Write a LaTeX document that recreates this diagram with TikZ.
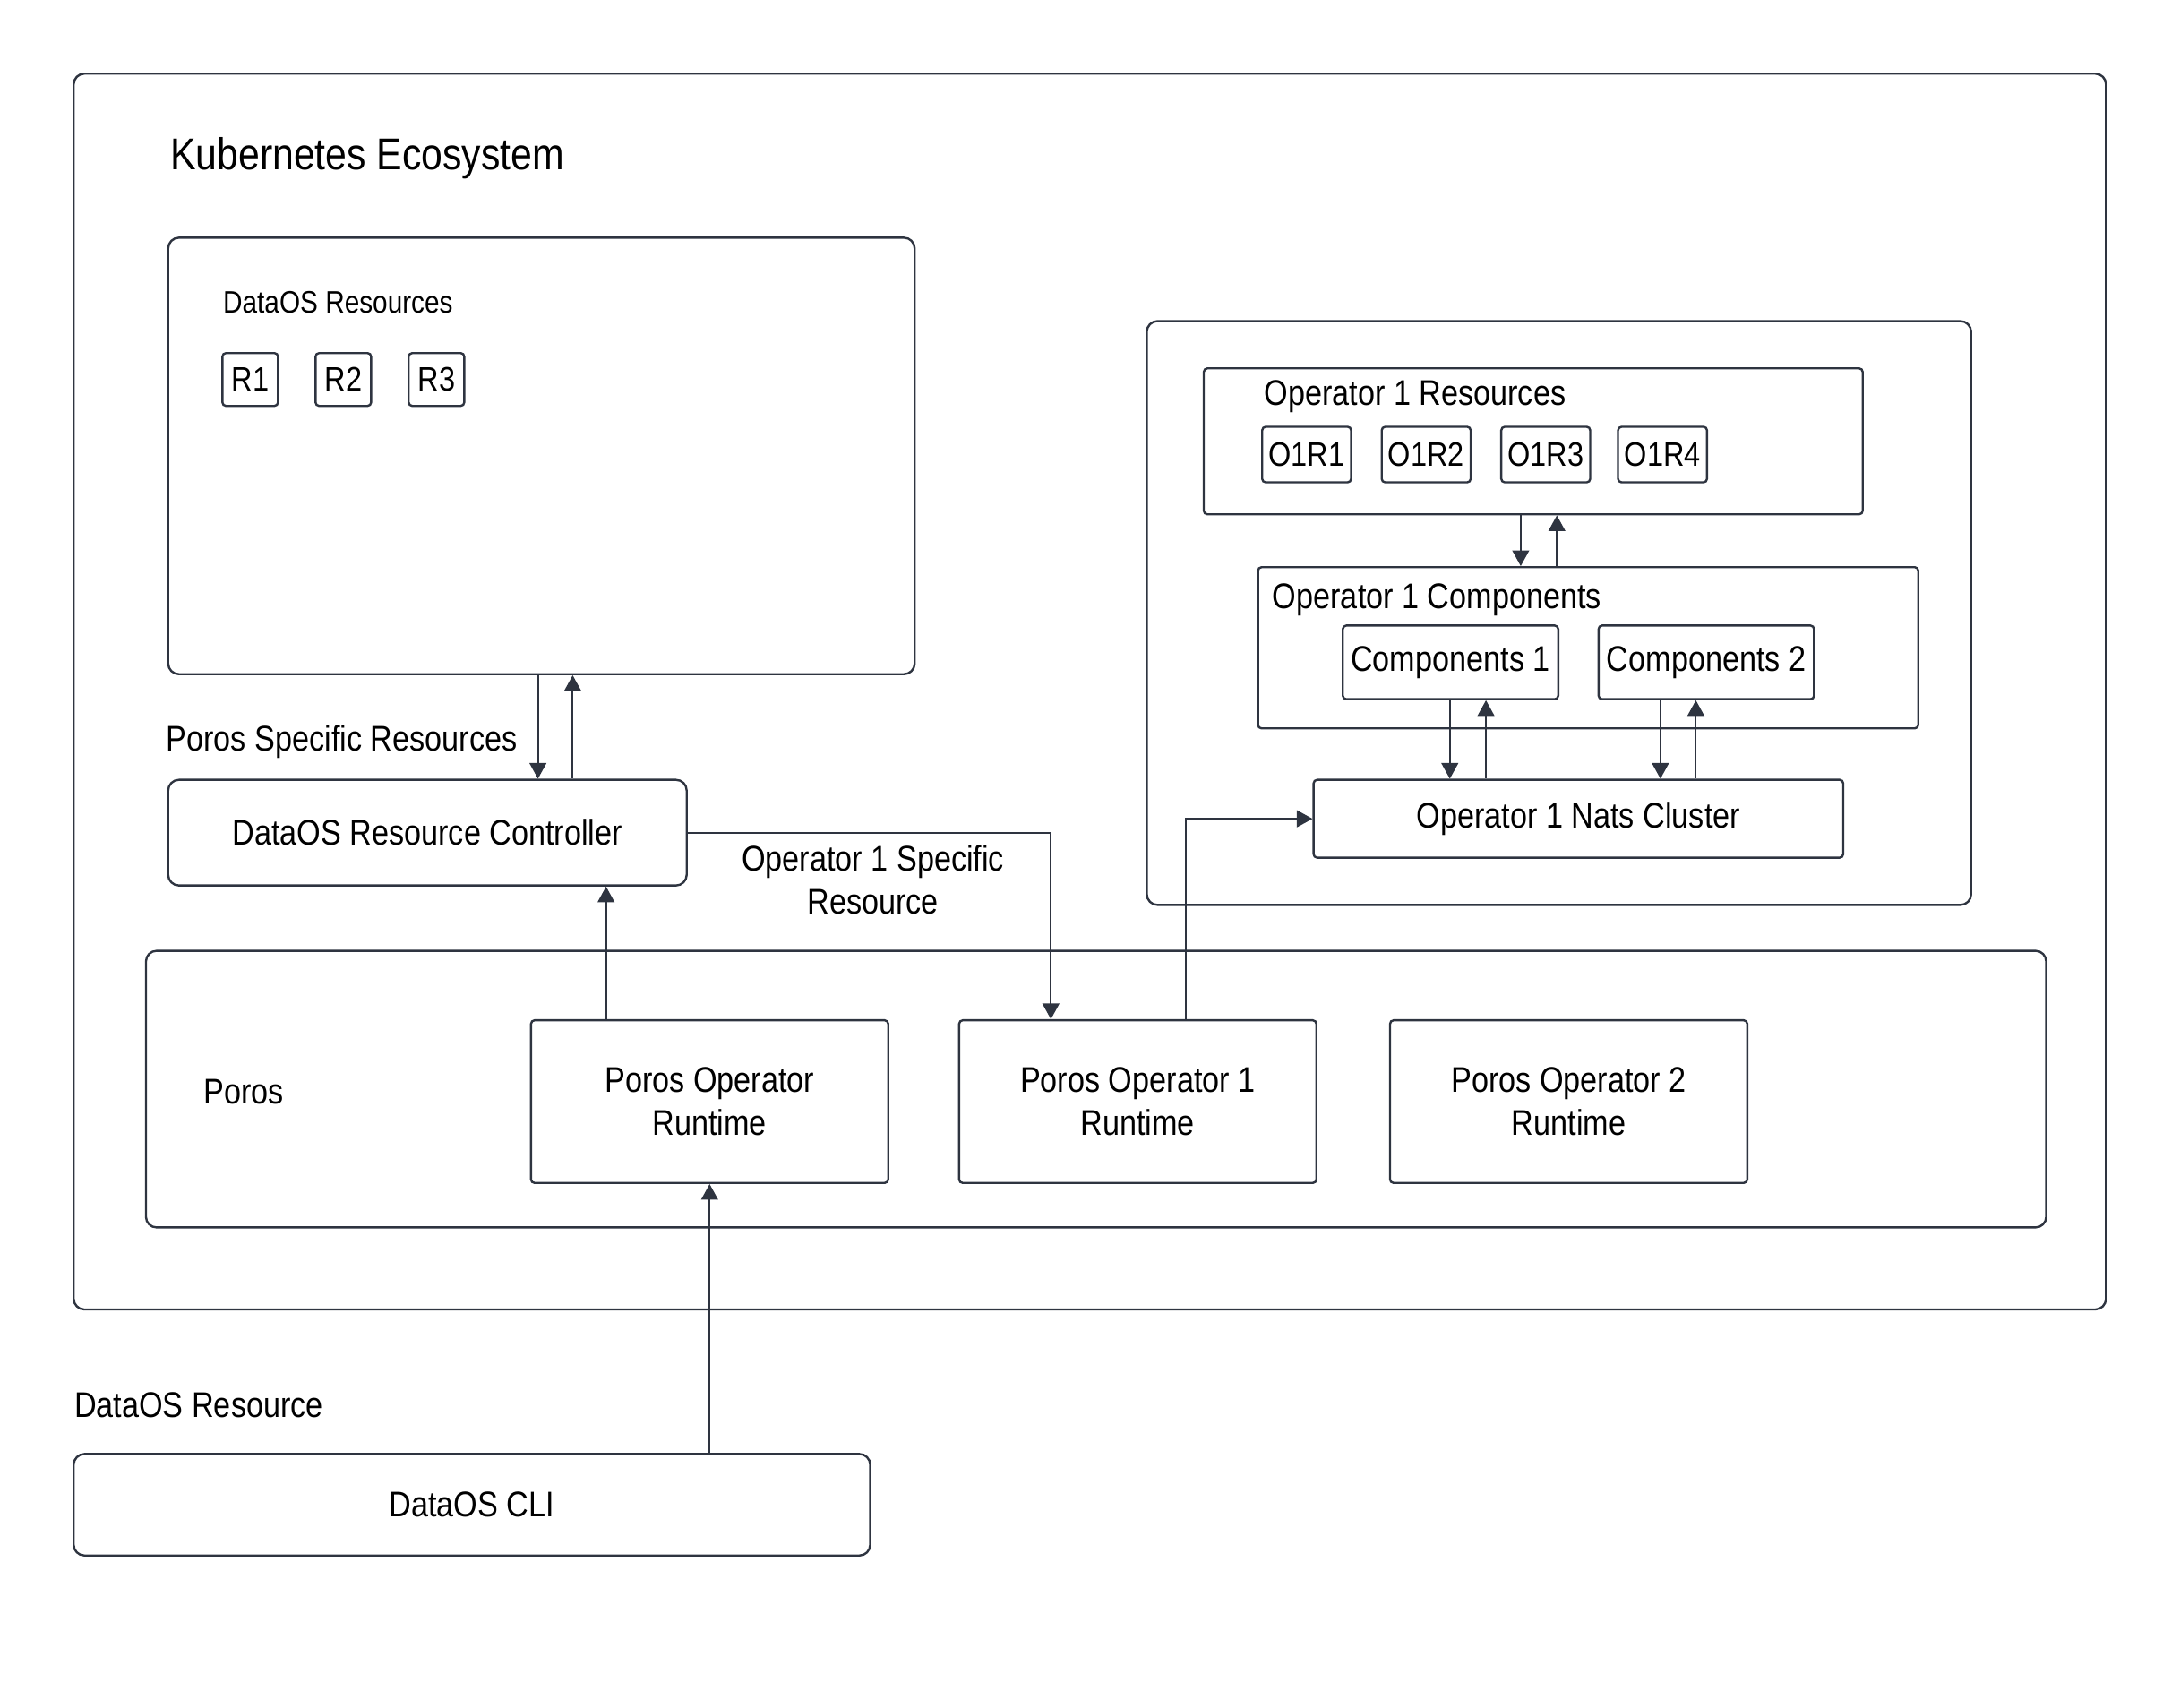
\documentclass[tikz,border=0pt]{standalone}
\usepackage{fontspec}
\setmainfont{Liberation Sans}[FakeStretch=0.86]
\usetikzlibrary{
    arrows.meta,
    positioning
}

\definecolor{linegray}{RGB}{46,52,64}

\begin{document}
\begin{tikzpicture}[
    x=0.39pt,
    y=-0.39pt,
    font=\fontsize{10}{12}\selectfont,
    >={Triangle[length=4.4pt,width=4.7pt]},
    sized/.style 2 args = {
        minimum width=#1*\pxunit,
        minimum height=#2*\pxunit
    },
    container/.style = {
        draw=linegray,
        line width=0.6pt,
        rounded corners=3pt,
        inner sep=0pt
    },
    block/.style = {
        draw=linegray,
        line width=0.6pt,
        rounded corners=1pt,
        inner sep=0pt,
        align=center
    },
    smallblock/.style = {
        block,
        font=\fontsize{9.5}{11}\selectfont
    },
    boxtitle/.style = {
        anchor=west,
        inner sep=0pt,
        yshift=-1pt
    },
]
    \def\pxunit{0.39pt}
    \useasboundingbox (0,0) rectangle (1568.3,1228.1);

    % Containers
    \node [container, sized={1462}{889}] (k8s) at (784,497.5) {};
    \node [container, sized={537}{314}] (dataos_res) at (389.5,328) {};
    \node [container, sized={593}{420}] (op1_area) at (1121.5,441) {};
    \node [container, sized={1367}{199}] (poros) at (788.5,783.5) {};

    \node [boxtitle, font=\fontsize{12.5}{15}\selectfont] (k8s_title) at (122,111)
        {Kubernetes Ecosystem};
    \node [boxtitle, font=\fontsize{8.7}{10}\selectfont] (dataos_res_title) at (160,215)
        {DataOS Resources};
    \node [boxtitle] (poros_title) at (146,783) {Poros};

    % DataOS resources
    \node [smallblock, sized={40}{38}] (res_1) at (180,273) {R1};
    \node [smallblock, sized={40}{38}] (res_2) at (247,273) {R2};
    \node [smallblock, sized={40}{38}] (res_3) at (314,273) {R3};

    \node [container, sized={373}{76}] (controller) at (307.5,599)
        {DataOS Resource Controller};

    % Poros runtimes
    \node [block, sized={257}{117}] (runtime_0) at (510.5,792.5)
        {Poros Operator\\ Runtime};
    \node [block, sized={257}{117}] (runtime_1) at (818.5,792.5)
        {Poros Operator 1\\ Runtime};
    \node [block, sized={257}{117}] (runtime_2) at (1128.5,792.5)
        {Poros Operator 2\\ Runtime};

    % Operator 1
    \node [block, sized={474}{105}] (op1_res) at (1103,317.5) {};
    \node [boxtitle] (op1_res_title) at (909,283) {Operator 1 Resources};
    \node [smallblock, sized={64}{40}] (op1_res_1) at (940,327) {O1R1};
    \node [smallblock, sized={64}{40}] (op1_res_2) at (1026,327) {O1R2};
    \node [smallblock, sized={64}{40}] (op1_res_3) at (1112,327) {O1R3};
    \node [smallblock, sized={64}{40}] (op1_res_4) at (1196,327) {O1R4};

    \node [block, sized={475}{116}] (op1_comp) at (1142.5,466) {};
    \node [boxtitle] (op1_comp_title) at (915,429) {Operator 1 Components};
    \node [block, sized={155}{53}] (comp_1) at (1043.5,476.5) {Components 1};
    \node [block, sized={155}{53}] (comp_2) at (1227.5,476.5) {Components 2};

    \node [block, sized={381}{56}] (nats) at (1135.5,589) {Operator 1 Nats Cluster};

    % CLI
    \node [container, sized={573}{73}] (cli) at (339.5,1082.5) {DataOS CLI};
    \node [boxtitle] (cli_title) at (53,1008) {DataOS Resource};

    \begin{scope}[
        draw=linegray,
        line width=0.5pt
    ]
        \draw [->] ([xshift=-2.5*\pxunit]dataos_res.south)
            -- ([xshift=-2.5*\pxunit]dataos_res.south |- controller.north);
        \draw [<-] ([xshift=22.5*\pxunit]dataos_res.south)
            -- ([xshift=22.5*\pxunit]dataos_res.south |- controller.north);
        \node [boxtitle] (poros_res_label) at (119,531) {Poros Specific Resources};

        \draw [->] (controller.east) -| ([xshift=-62.5*\pxunit]runtime_1.north);
        \node [align=center, inner sep=0pt] (op1_res_label) at (628,633)
            {Operator 1 Specific\\ Resource};

        \draw [->] ([xshift=-74.5*\pxunit]runtime_0.north)
            -- ([xshift=-74.5*\pxunit]runtime_0.north |- controller.south);
        \draw [->] ([xshift=34.5*\pxunit]runtime_1.north) |- (nats.west);
        \draw [->] (cli.north -| runtime_0.south) -- (runtime_0.south);

        \draw [->] ([xshift=-9*\pxunit]op1_res.south)
            -- ([xshift=-9*\pxunit]op1_res.south |- op1_comp.north);
        \draw [<-] ([xshift=17*\pxunit]op1_res.south)
            -- ([xshift=17*\pxunit]op1_res.south |- op1_comp.north);

        \draw [->] ([xshift=-0.5*\pxunit]comp_1.south)
            -- ([xshift=-0.5*\pxunit]comp_1.south |- nats.north);
        \draw [<-] ([xshift=25.5*\pxunit]comp_1.south)
            -- ([xshift=25.5*\pxunit]comp_1.south |- nats.north);
        \draw [->] ([xshift=-33*\pxunit]comp_2.south)
            -- ([xshift=-33*\pxunit]comp_2.south |- nats.north);
        \draw [<-] ([xshift=-7.5*\pxunit]comp_2.south)
            -- ([xshift=-7.5*\pxunit]comp_2.south |- nats.north);
    \end{scope}
\end{tikzpicture}
\end{document}
